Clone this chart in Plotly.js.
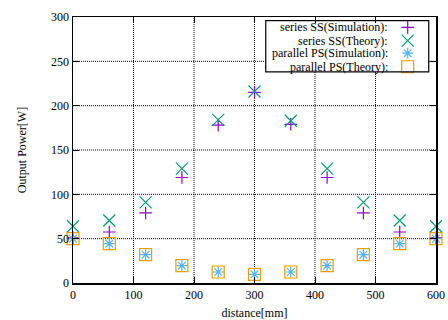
<!DOCTYPE html>
<html>
<head>
<meta charset="utf-8">
<script src="https://cdn.plot.ly/plotly-3.0.1.min.js"></script>
<style>html,body{margin:0;padding:0;background:#fff;}#chart{width:448px;height:320px;}</style>
</head>
<body>
<div id="chart"></div>
<script>
const distance = [0, 60, 120, 180, 240, 300, 360, 420, 480, 540, 600];
const ssSim    = [51, 57.5, 79, 119, 178, 215, 179, 119, 79, 57.5, 51];
const ssTheory = [64, 70.5, 91, 129, 184, 216, 183, 129, 91, 70.5, 64];
const psSim    = [50, 44.4, 32, 19.5, 12.4, 9.8, 12.4, 19.5, 32, 44.4, 50];
const psTheory = [50, 44.4, 32, 19.5, 12.4, 9.8, 12.4, 19.5, 32, 44.4, 50];
const seriesNames = ['series SS(Simulation):', 'series SS(Theory):', 'parallel PS(Simulation):', 'parallel PS(Theory):'];
const xTicks = [0, 100, 200, 300, 400, 500, 600];
const yTicks = [0, 50, 100, 150, 200, 250, 300];

const styles = [
  {color: '#9400d3', symbol: 'cross-thin-open', size: 9},
  {color: '#009e73', symbol: 'x-thin-open', size: 12},
  {color: '#56b4e9', symbol: 'asterisk-open', size: 9},
  {color: '#e69f00', symbol: 'square-open', size: 12}
];
const ys = [ssSim, ssTheory, psSim, psTheory];

const traces = ys.map((y, i) => ({
  x: distance, y: y, type: 'scatter', mode: 'markers', name: seriesNames[i],
  cliponaxis: false, showlegend: false,
  marker: {symbol: styles[i].symbol, size: styles[i].size, color: styles[i].color,
           line: {color: styles[i].color, width: 1.2}}
}));

// custom key (gnuplot style: text right-aligned, symbols on the right)
const box = {x0: 0.531, x1: 0.98, y0: 0.794, y1: 0.986};   // fractions of the plot area
const rowY = [0.961, 0.911, 0.864, 0.813];
const keyX = 0.922;
styles.forEach((s, i) => {
  traces.push({
    x: [keyX], y: [rowY[i]], xaxis: 'x2', yaxis: 'y2', type: 'scatter', mode: 'markers',
    showlegend: false, hoverinfo: 'skip', cliponaxis: false,
    marker: {symbol: s.symbol, size: s.size, color: s.color, line: {color: s.color, width: 1.2}}
  });
});

const fam = '"Liberation Serif", "Times New Roman", Times, serif';
const font = {family: fam, size: 12, color: '#000'};
const annotations = seriesNames.map((n, i) => ({
  xref: 'paper', yref: 'paper', x: 0.868, y: rowY[i], xanchor: 'right', yanchor: 'middle',
  text: n, showarrow: false, font: font, borderpad: 0, borderwidth: 0
}));

// dotted grid drawn as shapes, interrupted where the key box sits
const gridDash = '1px,1px';
const xMin = xTicks[0], xMax = xTicks[xTicks.length - 1];
const yMin = yTicks[0], yMax = yTicks[yTicks.length - 1];
const bx0 = xMin + box.x0 * (xMax - xMin), bx1 = xMin + box.x1 * (xMax - xMin);
const by0 = yMin + box.y0 * (yMax - yMin), by1 = yMin + box.y1 * (yMax - yMin);
const gridLine = (x0, x1, y0, y1) => ({
  type: 'line', xref: 'x', yref: 'y', x0: x0, x1: x1, y0: y0, y1: y1,
  line: {color: '#000', width: 1, dash: gridDash}, layer: 'below'
});
const shapes = [];
xTicks.slice(1, -1).forEach(v => {
  if (v > bx0 && v < bx1) shapes.push(gridLine(v, v, yMin, by0));
  else shapes.push(gridLine(v, v, yMin, yMax));
});
yTicks.slice(1, -1).forEach(v => {
  if (v > by0 && v < by1) {
    shapes.push(gridLine(xMin, bx0, v, v));
    shapes.push(gridLine(bx1, xMax, v, v));
  } else shapes.push(gridLine(xMin, xMax, v, v));
});
shapes.push({
  type: 'rect', xref: 'paper', yref: 'paper', x0: box.x0, x1: box.x1, y0: box.y0, y1: box.y1,
  line: {color: '#000', width: 1.2}, fillcolor: 'rgba(0,0,0,0)', layer: 'above'
});

const axisCommon = {
  showgrid: false, showline: true, linecolor: '#000', linewidth: 1.5, mirror: 'ticks',
  ticks: 'inside', ticklen: 6, tickcolor: '#000', tickwidth: 1, zeroline: false,
  tickfont: font
};

const layout = {
  width: 448, height: 320,
  margin: {l: 73, r: 12, t: 17, b: 37},
  paper_bgcolor: '#fff', plot_bgcolor: '#fff',
  font: font,
  showlegend: false,
  xaxis: Object.assign({}, axisCommon, {
    range: [xMin, xMax], tickvals: xTicks, ticktext: xTicks.map(String),
    title: {text: 'distance[mm]', font: font, standoff: 9}
  }),
  yaxis: Object.assign({}, axisCommon, {
    range: [yMin, yMax], tickvals: yTicks, ticktext: yTicks.map(String),
    title: {text: 'Output Power[W]', font: font, standoff: 22}
  }),
  xaxis2: {overlaying: 'x', range: [0, 1], visible: false, fixedrange: true},
  yaxis2: {overlaying: 'y', range: [0, 1], visible: false, fixedrange: true},
  shapes: shapes,
  annotations: annotations
};

Plotly.newPlot('chart', traces, layout, {displayModeBar: false, staticPlot: true});
</script>
</body>
</html>
